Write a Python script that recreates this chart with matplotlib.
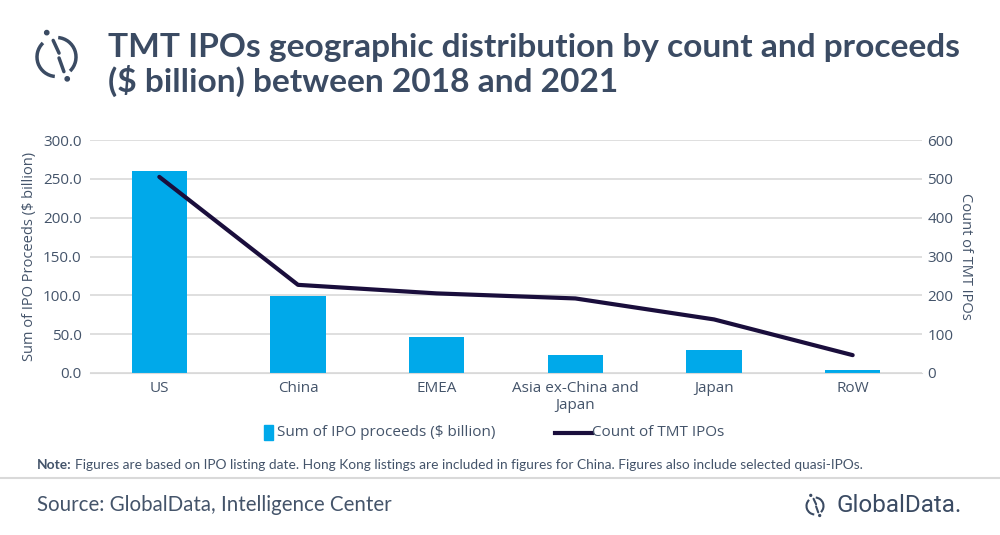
import numpy as np
import matplotlib.pyplot as plt
from matplotlib.patches import Arc, Circle
from matplotlib.lines import Line2D

# data
regions = ["US", "China", "EMEA", "Asia ex-China and\nJapan", "Japan", "RoW"]
proceeds = [260.5, 99.0, 46.5, 23.0, 29.5, 4.5]     # $ billion, left axis
ipo_count = [505, 227, 205, 192, 138, 46]           # right axis
left_ticks = [0, 50, 100, 150, 200, 250, 300]
right_ticks = [0, 100, 200, 300, 400, 500, 600]

txt = "#44546A"
title_col = "#3B4B63"
bar_col = "#00A9EA"
line_col = "#1A0E3C"
grid_col = "#D9D9D9"

plt.rcParams['font.family'] = ['Open Sans', 'DejaVu Sans']

W, H = 1000, 535
fig = plt.figure(figsize=(W / 100, H / 100), dpi=100)

# background axes in pixel coords for title, logos, notes
bg = fig.add_axes([0, 0, 1, 1])
bg.set_xlim(0, W)
bg.set_ylim(H, 0)
bg.axis("off")

# main plot area: x 90-922, y 140-373 (pixels)
ax = fig.add_axes([90 / W, 1 - 373 / H, (922 - 90) / W, (373 - 140) / H])
x = np.arange(len(regions))
ax.bar(x, proceeds, width=0.4, color=bar_col, zorder=2)
ax.set_xlim(-0.5, len(regions) - 0.5)
ax.set_ylim(0, 300)
ax.set_yticks(left_ticks)
ax.set_yticklabels([f"{v:.1f}" for v in left_ticks])
ax.set_xticks(x)
ax.set_xticklabels(regions, linespacing=1.15)
ax.grid(axis="y", color=grid_col, linewidth=1.2, zorder=0)
for s in ax.spines.values():
    s.set_visible(False)
ax.spines["bottom"].set_visible(True)
ax.spines["bottom"].set_color(grid_col)
ax.tick_params(axis="both", length=0, labelsize=11, colors=txt, pad=6)
ax.tick_params(axis="y", pad=6)
ax.set_ylabel("Sum of IPO Proceeds ($ billion)", fontsize=10.5, color=txt, labelpad=4)

ax2 = ax.twinx()
ax2.plot(x, ipo_count, color=line_col, linewidth=3, solid_capstyle="round", zorder=3)
ax2.set_ylim(0, 600)
ax2.set_yticks(right_ticks)
for s in ax2.spines.values():
    s.set_visible(False)
ax2.tick_params(axis="y", length=0, labelsize=11, colors=txt, pad=4)
ax2.set_ylabel("Count of TMT IPOs", fontsize=10.5, color=txt, rotation=270, labelpad=14)

# legend
bg.add_patch(plt.Rectangle((264, 425), 9, 15, color=bar_col))
bg.text(277, 433, "Sum of IPO proceeds ($ billion)", fontsize=11, color=txt,
        va="center", ha="left")
bg.add_line(Line2D([555, 592], [433, 433], color=line_col, linewidth=3))
bg.text(592, 433, "Count of TMT IPOs", fontsize=11, color=txt, va="center", ha="left")

# title
title_font = ["Lato", "DejaVu Sans"]
bg.text(108, 47, "TMT IPOs geographic distribution by count and proceeds",
        fontsize=24.1, fontweight="bold", color=title_col, va="center", ha="left",
        family=title_font)
bg.text(108, 81, "($ billion) between 2018 and 2021",
        fontsize=24.1, fontweight="bold", color=title_col, va="center", ha="left",
        family=title_font)


def logo(cx, cy, r, lw, col):
    # open ring with two gaps, a broken slash and two dots (y axis points down)
    bg.add_patch(Arc((cx, cy), 2 * r, 2 * r, theta1=95, theta2=226, color=col, lw=lw))
    bg.add_patch(Arc((cx, cy), 2 * r, 2 * r, theta1=-85, theta2=46, color=col, lw=lw))
    bg.add_line(Line2D([cx - 0.17 * r, cx + 0.13 * r], [cy - 0.85 * r, cy - 0.2 * r],
                       color=col, lw=lw, solid_capstyle="round"))
    bg.add_line(Line2D([cx + 0.13 * r, cx + 0.38 * r], [cy + 0.05 * r, cy + 0.75 * r],
                       color=col, lw=lw, solid_capstyle="round"))
    bg.add_patch(Circle((cx - 0.5 * r, cy - 1.25 * r), 0.11 * r, color=col))
    bg.add_patch(Circle((cx + 0.55 * r, cy + 1.12 * r), 0.11 * r, color=col))


logo(56.5, 57, 19.5, 2.5, title_col)

# note
note_font = ["Lato", "DejaVu Sans"]
bg.text(37, 465, "Note:", fontsize=9.9, fontweight="bold", color=txt, va="center",
        ha="left", family=note_font)
bg.text(75, 465, "Figures are based on IPO listing date. Hong Kong listings are included in "
        "figures for China. Figures also include selected quasi-IPOs.",
        fontsize=9.9, color=txt, va="center", ha="left", family=note_font)

bg.add_line(Line2D([0, W], [478, 478], color=grid_col, linewidth=1.5))

bg.text(37, 505, "Source: GlobalData, Intelligence Center", fontsize=14.8, color=txt,
        va="center", ha="left", family=["Lato", "DejaVu Sans"])

logo(815, 506, 8.5, 1.5, title_col)
bg.text(836, 506, "GlobalData.", fontsize=17.5, color=title_col, va="center", ha="left",
        family=["Roboto", "DejaVu Sans"])

fig.savefig("out.png", dpi=100)
